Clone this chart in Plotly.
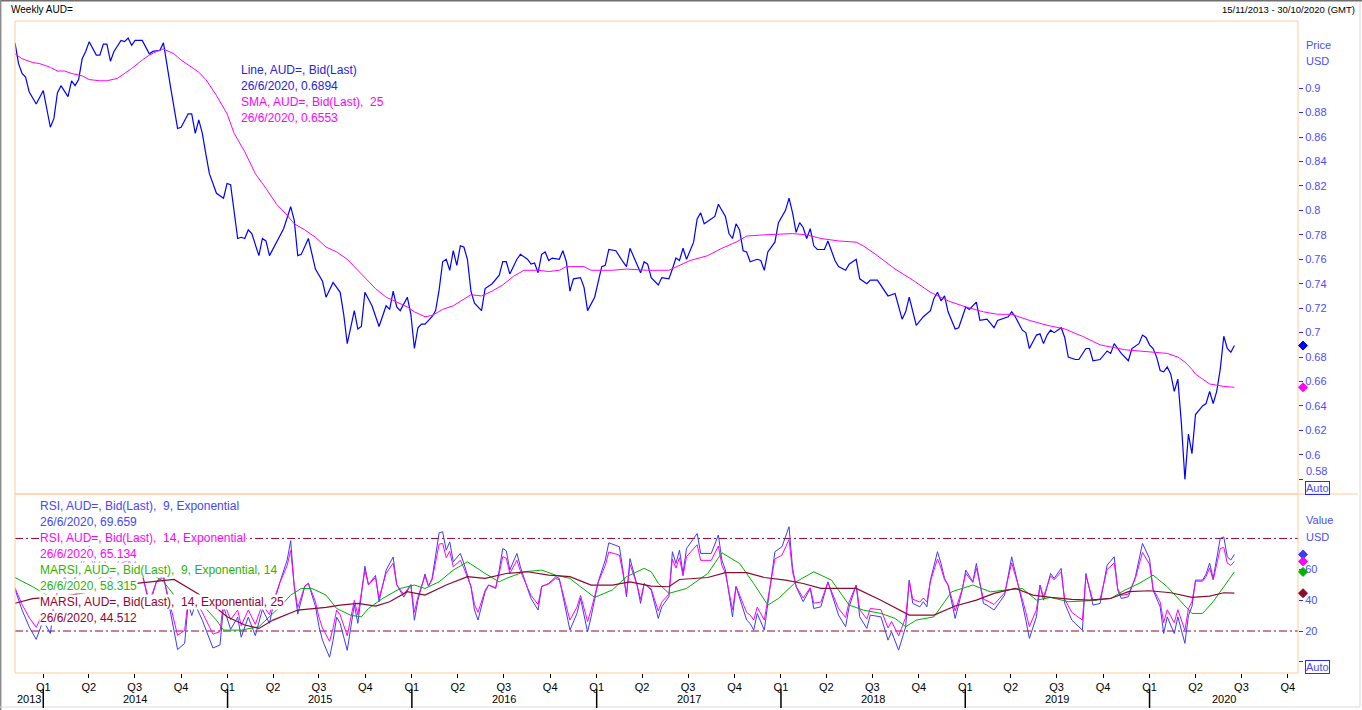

# Weekly AUD= chart: price + SMA(25) on top, RSI / MARSI panel below

import numpy as np
import pandas as pd
import plotly.graph_objects as go

#%% data (weekly, index = weeks after 15/11/2013)
start = pd.Timestamp("2013-11-15")
x_end = pd.Timestamp("2020-10-30")

price_wk = [0, 1, 2, 3, 4, 6, 8, 10, 11, 12, 13, 15, 16, 17, 18, 19, 20, 21, 23, 24, 25, 26, 27, 28, 30, 31, 32, 33, 34, 36,
            38, 39, 41, 42, 44, 45, 46, 47, 49, 50, 51, 52, 53, 54, 55, 57, 59, 60, 61, 63, 64, 65, 66, 67, 69, 70, 71, 72, 74, 76,
            78, 79, 80, 81, 83, 85, 87, 88, 90, 92, 93, 94, 96, 97, 98, 99, 101, 103, 105, 106, 107, 108, 109, 111, 112, 113, 114, 115, 116, 118,
            119, 120, 121, 122, 123, 124, 125, 126, 127, 128, 129, 130, 132, 133, 135, 137, 138, 139, 140, 142, 143, 145, 146, 147, 148, 149, 150, 151, 152, 154,
            155, 156, 157, 158, 160, 161, 162, 164, 166, 167, 168, 170, 172, 173, 174, 175, 177, 178, 179, 180, 182, 183, 185, 186, 187, 188, 189, 190, 191, 192,
            193, 194, 195, 197, 198, 199, 200, 201, 202, 203, 204, 205, 206, 207, 208, 210, 211, 212, 213, 215, 216, 218, 219, 220, 221, 222, 223, 224, 225, 226,
            227, 229, 230, 232, 233, 235, 236, 238, 239, 241, 242, 244, 247, 249, 251, 252, 253, 255, 257, 259, 260, 261, 262, 263, 264, 266, 267, 269, 270, 272,
            273, 275, 277, 278, 281, 282, 283, 285, 286, 287, 289, 290, 291, 292, 293, 294, 296, 297, 298, 300, 301, 303, 304, 305, 307, 309, 310, 311, 312, 313,
            315, 316, 318, 319, 320, 321, 322, 323, 324, 325, 326, 327, 328, 329, 330, 331, 332, 333, 334, 335, 336, 337, 338, 339, 340, 341, 342, 343, 344, 345]
price = [0.937, 0.920, 0.912, 0.909, 0.897, 0.887, 0.898, 0.868, 0.875, 0.896, 0.902, 0.893, 0.906, 0.902, 0.907, 0.924, 0.930, 0.938, 0.927, 0.927,
         0.936, 0.936, 0.922, 0.930, 0.939, 0.938, 0.941, 0.935, 0.939, 0.939, 0.928, 0.930, 0.931, 0.937, 0.901, 0.885, 0.867, 0.868, 0.879, 0.879,
         0.863, 0.874, 0.863, 0.846, 0.830, 0.814, 0.810, 0.822, 0.821, 0.777, 0.778, 0.777, 0.784, 0.781, 0.763, 0.777, 0.775, 0.763, 0.774, 0.785,
         0.803, 0.792, 0.763, 0.764, 0.777, 0.752, 0.742, 0.729, 0.741, 0.733, 0.715, 0.691, 0.718, 0.703, 0.705, 0.733, 0.722, 0.705, 0.722, 0.719,
         0.734, 0.721, 0.718, 0.729, 0.715, 0.687, 0.704, 0.707, 0.707, 0.713, 0.718, 0.735, 0.758, 0.760, 0.751, 0.767, 0.755, 0.771, 0.770, 0.760,
         0.734, 0.724, 0.718, 0.736, 0.740, 0.747, 0.758, 0.758, 0.748, 0.760, 0.764, 0.760, 0.756, 0.757, 0.749, 0.764, 0.766, 0.759, 0.761, 0.760,
         0.767, 0.758, 0.734, 0.744, 0.745, 0.737, 0.718, 0.729, 0.754, 0.755, 0.768, 0.767, 0.758, 0.754, 0.769, 0.762, 0.749, 0.758, 0.756, 0.745,
         0.739, 0.745, 0.744, 0.752, 0.761, 0.759, 0.769, 0.760, 0.767, 0.774, 0.793, 0.798, 0.789, 0.793, 0.795, 0.805, 0.800, 0.795, 0.781, 0.777,
         0.789, 0.784, 0.767, 0.766, 0.758, 0.760, 0.759, 0.751, 0.766, 0.774, 0.790, 0.800, 0.810, 0.798, 0.782, 0.790, 0.786, 0.777, 0.785, 0.771,
         0.768, 0.768, 0.775, 0.759, 0.754, 0.751, 0.756, 0.760, 0.744, 0.740, 0.743, 0.743, 0.730, 0.732, 0.711, 0.717, 0.729, 0.706, 0.713, 0.718,
         0.728, 0.733, 0.726, 0.730, 0.717, 0.703, 0.704, 0.721, 0.719, 0.725, 0.710, 0.711, 0.704, 0.710, 0.713, 0.717, 0.713, 0.702, 0.700, 0.687,
         0.698, 0.699, 0.691, 0.698, 0.702, 0.700, 0.704, 0.696, 0.680, 0.678, 0.678, 0.687, 0.687, 0.677, 0.678, 0.685, 0.683, 0.691, 0.687, 0.683,
         0.677, 0.687, 0.691, 0.698, 0.696, 0.690, 0.687, 0.680, 0.669, 0.668, 0.672, 0.666, 0.652, 0.662, 0.626, 0.580, 0.617, 0.601, 0.633, 0.637,
         0.640, 0.642, 0.652, 0.642, 0.652, 0.670, 0.697, 0.687, 0.684, 0.6894]

sma_wk = [0, 2, 5, 7, 10, 12, 14, 16, 19, 21, 24, 26, 29, 31, 33, 36, 38, 40, 42, 45, 47, 50, 52, 54, 57, 60, 62, 65, 68, 71,
          74, 77, 79, 82, 85, 88, 91, 94, 96, 99, 102, 105, 108, 111, 113, 116, 118, 121, 124, 127, 129, 132, 135, 138, 141, 144, 148, 151, 154, 156,
          161, 163, 169, 173, 179, 185, 188, 191, 196, 200, 204, 207, 212, 217, 220, 224, 228, 233, 238, 240, 244, 249, 254, 259, 264, 269, 274, 278, 282, 287,
          292, 297, 302, 307, 311, 314, 318, 323, 326, 329, 331, 333, 334, 336, 338, 340, 342, 345]
sma = [0.928, 0.924, 0.921, 0.920, 0.917, 0.914, 0.914, 0.912, 0.910, 0.907, 0.906, 0.906, 0.908, 0.912, 0.916, 0.923, 0.927, 0.930, 0.932, 0.928,
       0.923, 0.917, 0.913, 0.907, 0.894, 0.879, 0.863, 0.848, 0.830, 0.818, 0.805, 0.796, 0.789, 0.784, 0.778, 0.770, 0.766, 0.760, 0.754, 0.745,
       0.736, 0.729, 0.725, 0.721, 0.717, 0.713, 0.714, 0.719, 0.722, 0.727, 0.731, 0.730, 0.734, 0.739, 0.746, 0.751, 0.751, 0.750, 0.751, 0.754,
       0.754, 0.751, 0.751, 0.752, 0.751, 0.751, 0.755, 0.759, 0.763, 0.769, 0.774, 0.779, 0.780, 0.781, 0.781, 0.780, 0.777, 0.775, 0.774, 0.771,
       0.763, 0.752, 0.743, 0.733, 0.726, 0.721, 0.717, 0.715, 0.715, 0.710, 0.706, 0.703, 0.697, 0.690, 0.688, 0.686, 0.685, 0.684, 0.683, 0.680,
       0.676, 0.670, 0.666, 0.662, 0.658, 0.657, 0.656, 0.6553]

rsi_wk = [0, 2, 4, 6, 8, 10, 11, 12, 14, 16, 18, 20, 21, 23, 25, 27, 28, 30, 32, 33, 34, 36, 38, 40, 42, 43, 46, 48, 49, 50,
          51, 53, 56, 58, 59, 61, 63, 64, 66, 68, 70, 72, 73, 75, 77, 78, 79, 80, 82, 83, 85, 86, 87, 89, 90, 91, 92, 94, 95, 96,
          97, 99, 100, 102, 103, 105, 107, 108, 110, 112, 113, 114, 116, 117, 118, 119, 120, 121, 122, 123, 124, 126, 127, 129, 130, 131, 133, 134, 136, 137,
          138, 139, 140, 142, 143, 145, 146, 148, 149, 151, 153, 154, 155, 157, 159, 160, 162, 163, 165, 167, 168, 170, 171, 172, 173, 174, 176, 177, 178, 180,
          182, 183, 185, 186, 187, 188, 189, 190, 192, 193, 194, 197, 199, 200, 201, 203, 204, 207, 208, 209, 210, 212, 213, 215, 217, 219, 220, 221, 223, 225,
          226, 228, 230, 232, 233, 235, 236, 238, 239, 241, 242, 245, 247, 248, 250, 252, 253, 254, 256, 257, 258, 259, 261, 262, 263, 264, 266, 268, 269, 271,
          272, 274, 275, 277, 279, 280, 282, 284, 285, 286, 287, 289, 290, 291, 293, 294, 296, 297, 299, 300, 302, 303, 305, 307, 309, 311, 312, 313, 315, 317,
          319, 321, 322, 324, 325, 326, 328, 329, 331, 332, 333, 334, 336, 337, 338, 339, 341, 342, 343, 344, 345]
rsi9 = [47, 33.6, 22.8, 14.6, 27, 18.4, 35, 45, 55, 50, 60, 72, 75, 62, 68, 55, 60, 68, 70, 60,
        65, 58, 36, 52, 56, 44, 8, 12, 38, 30, 37, 27, 9, 11, 36, 21, 29, 16, 29, 17,
        34, 25, 36, 52, 66, 78.5, 49, 31, 49, 51, 36, 23, 14, 3, 14, 29, 25, 7.5, 23, 37,
        25, 62, 50, 56, 39, 59.5, 68, 50, 42, 50, 27, 40, 57, 49, 54, 68, 83.7, 84.3, 72.4, 77.8,
        64.9, 70.3, 63.8, 48.7, 33.6, 27.1, 45.4, 49.8, 47.6, 59.5, 73.5, 72, 59.5, 70.3, 61.6, 47.6, 41.1, 33.6, 48.7, 50.8,
        55.2, 54.1, 42.2, 20.6, 31.4, 41.1, 19.5, 29.2, 51.9, 66, 77.2, 75.7, 74.6, 59.5, 42.2, 67, 49.8, 37.9, 50.8, 46.5,
        28.2, 35.7, 42.2, 71.4, 63.8, 72.4, 57.3, 73.5, 80, 83.2, 70.3, 70.3, 82.2, 66, 59.5, 29.2, 48.7, 27.1, 24.9, 20.6,
        31.4, 20.6, 37.9, 71.4, 74.6, 87.6, 60.6, 48.7, 39, 47.6, 34.6, 35.7, 51.9, 37.9, 30.3, 22.8, 35.7, 49.8, 29.2, 21.7,
        30.3, 29.2, 14.1, 19.5, 7.6, 22.8, 53, 37.9, 35.7, 39, 35.7, 53, 71.4, 63.8, 54.1, 49.8, 28.2, 46.5, 59.5, 51.9,
        63.8, 37.9, 36.8, 33.6, 40, 43.3, 68.1, 48.7, 37.9, 27.1, 15.2, 29.2, 49.8, 40, 57.3, 54.1, 60.6, 37.9, 27.1, 24.9,
        20.6, 57.3, 36.8, 37.9, 62.7, 68.1, 46.5, 41.1, 42.2, 55.2, 76.8, 67, 46.5, 35.7, 18.4, 29.2, 18.4, 29.2, 12, 30,
        36, 53, 53, 57, 64, 54, 80, 81, 68, 66, 69.659]
rsi14 = [48, 37.2, 28.8, 22.4, 32, 25.4, 38.3, 46.1, 53.9, 50, 57.8, 67.2, 69.5, 59.4, 64, 53.9, 57.8, 64, 65.6, 57.8,
         61.7, 56.2, 39.1, 51.6, 54.7, 45.3, 17.2, 20.4, 40.6, 34.4, 39.9, 32.1, 18, 19.6, 39.1, 27.4, 33.6, 23.5, 33.6, 24.3,
         37.5, 30.5, 39.1, 51.6, 62.5, 72.2, 49.2, 35.2, 49.2, 50.8, 39.1, 28.9, 21.9, 13.3, 21.9, 33.6, 30.5, 16.9, 28.9, 39.9,
         30.5, 59.4, 50, 54.7, 41.4, 57.4, 64, 50, 43.8, 50, 32.1, 42.2, 55.5, 49.2, 53.1, 64, 76.3, 76.8, 67.5, 71.7,
         61.6, 65.8, 60.8, 49, 37.2, 32.1, 46.4, 49.8, 48.1, 57.4, 68.3, 67.2, 57.4, 65.8, 59, 48.1, 43.1, 37.2, 49, 50.6,
         54.1, 53.2, 43.9, 27.1, 35.5, 43.1, 26.2, 33.8, 51.5, 62.5, 71.2, 70, 69.2, 57.4, 43.9, 63.3, 49.8, 40.6, 50.6, 47.3,
         33, 38.8, 43.9, 66.7, 60.8, 67.5, 55.7, 68.3, 73.4, 75.9, 65.8, 65.8, 75.1, 62.5, 57.4, 33.8, 49, 32.1, 30.4, 27.1,
         35.5, 27.1, 40.6, 66.7, 69.2, 79.3, 58.3, 49, 41.4, 48.1, 38, 38.8, 51.5, 40.6, 34.6, 28.8, 38.8, 49.8, 33.8, 27.9,
         34.6, 33.8, 22, 26.2, 16.9, 28.8, 52.3, 40.6, 38.8, 41.4, 38.8, 52.3, 66.7, 60.8, 53.2, 49.8, 33, 47.3, 57.4, 51.5,
         60.8, 40.6, 39.7, 37.2, 42.2, 44.8, 64.1, 49, 40.6, 32.1, 22.9, 33.8, 49.8, 42.2, 55.7, 53.2, 58.3, 40.6, 32.1, 30.4,
         27.1, 55.7, 39.7, 40.6, 59.9, 64.1, 47.3, 43.1, 43.9, 54.1, 70.9, 63.3, 47.3, 38.8, 25.4, 33.8, 25.4, 33.8, 20.4, 34.4,
         39.1, 52.3, 52.3, 55.5, 60.9, 53.1, 73.4, 74.2, 64, 62.5, 65.134]

marsi9_wk = [0, 5, 10, 15, 20, 25, 30, 35, 38, 42, 45, 49, 54, 57, 59, 64, 69, 75, 78, 81, 84, 88, 91, 95, 98, 100, 104, 109, 113, 116,
             120, 124, 128, 133, 137, 139, 144, 149, 153, 157, 160, 164, 169, 173, 178, 180, 182, 185, 190, 196, 200, 205, 209, 213, 216, 221, 226, 231, 236, 240,
             245, 249, 252, 255, 260, 265, 271, 276, 280, 285, 289, 293, 298, 304, 310, 314, 318, 322, 326, 330, 333, 336, 339, 342, 345]
marsi9 = [54.7, 48.7, 42, 41, 48, 56, 60, 61, 58, 52, 43.3, 36.8, 34.6, 27, 20.6, 20.6, 22.8, 35.8, 43.3, 47.6,
          47.6, 43.3, 34.6, 30.2, 29.2, 34.6, 41.1, 47.6, 49.8, 47.6, 51.9, 59.5, 64.9, 57.3, 51.9, 54.1, 58.4, 59.5, 56.2, 54.1,
          48.7, 41.8, 46.6, 55.2, 60.6, 58.4, 51, 44.4, 47.6, 57.3, 70.7, 63.8, 50.8, 36.8, 41.1, 51.9, 58.4, 53, 36.8, 33.6,
          31.4, 28.2, 22.8, 27.1, 29.2, 45.4, 49.8, 45.4, 46.5, 47.6, 40, 41.8, 39, 39.6, 41.1, 46.5, 50.8, 56.2, 48.7, 39,
          31.4, 31.4, 39, 48.7, 58.315]

marsi14_wk = [0, 5, 15, 25, 35, 45, 52, 56, 60, 65, 69, 73, 80, 88, 92, 97, 102, 106, 111, 116, 122, 128, 133, 139, 145, 151, 157, 163, 169, 174,
              180, 185, 188, 196, 201, 207, 212, 218, 223, 228, 238, 245, 250, 253, 260, 266, 272, 277, 283, 288, 293, 299, 304, 310, 315, 321, 327, 333, 338, 342,
              345]
marsi14 = [38, 41, 43, 47, 51, 53.4, 43.9, 36.8, 29.2, 23.9, 21.7, 27.1, 33.6, 35.3, 36.8, 37.9, 36.2, 39, 45.5, 43.3,
           49.8, 55.2, 54.1, 57.3, 58.4, 56.2, 55.2, 49.8, 49.8, 51.9, 49.1, 48.7, 53.4, 54.7, 57.8, 57.8, 54.7, 53, 50.8, 47.6,
           47.6, 40, 34, 30.3, 30.3, 36.2, 40, 44.4, 47.6, 43.3, 41.8, 40.5, 40, 41.1, 45.5, 46.1, 44.8, 41.8, 42.6, 44.8,
           44.512]

price_ticks = [0.58, 0.6, 0.62, 0.64, 0.66, 0.68, 0.7, 0.72, 0.74, 0.76, 0.78, 0.8, 0.82, 0.84, 0.86, 0.88, 0.9]
rsi_ticks = [0, 20, 40, 60]
rsi_bands = [80, 20]

top_legend = [("Line, AUD=, Bid(Last)", "#2323E8"), ("26/6/2020, 0.6894", "#2323E8"),
              ("SMA, AUD=, Bid(Last),  25", "#FF00FF"), ("26/6/2020, 0.6553", "#FF00FF")]
low_legend = [("RSI, AUD=, Bid(Last),  9, Exponential", "#4646FF"), ("26/6/2020, 69.659", "#4646FF"),
              ("RSI, AUD=, Bid(Last),  14, Exponential", "#FF00FF"), ("26/6/2020, 65.134", "#FF00FF"),
              ("MARSI, AUD=, Bid(Last),  9, Exponential, 14", "#2DB400"), ("26/6/2020, 58.315", "#2DB400"),
              ("MARSI, AUD=, Bid(Last),  14, Exponential, 25", "#990033"), ("26/6/2020, 44.512", "#990033")]

#%% helpers
W, H = 1362, 710
ML, MR, MT, MB = 15, 64, 21, 37
PW, PH = W - ML - MR, H - MT - MB
split = 179 / PH   # lower panel height share


def wk_dates(wk):
    return start + pd.to_timedelta(np.array(wk) * 7, unit="D")


def px(x):
    return (x - ML) / PW


def py(y):
    return (H - MB - y) / PH


axis_font = dict(family="Liberation Sans, Arial", size=11)
text_font = "Liberation Sans, Arial"
BLUE_AX = "#4B4BFF"
ORANGE = "#FFCC99"

fig = go.Figure()

# top panel
fig.add_trace(go.Scatter(x=wk_dates(price_wk), y=price, mode="lines", line=dict(color="#0000FF", width=1.2),
                         xaxis="x", yaxis="y"))
fig.add_trace(go.Scatter(x=wk_dates(sma_wk), y=sma, mode="lines", line=dict(color="#FF00FF", width=1),
                         xaxis="x", yaxis="y"))
# lower panel
for wk, vals, col, lw in [(rsi_wk, rsi9, "#3C3CFF", 1), (rsi_wk, rsi14, "#FF00FF", 1),
                          (marsi9_wk, marsi9, "#00B000", 1), (marsi14_wk, marsi14, "#8B0A2E", 1.2)]:
    fig.add_trace(go.Scatter(x=wk_dates(wk), y=vals, mode="lines", line=dict(color=col, width=lw),
                             xaxis="x2", yaxis="y2"))

# quarter ticks (the chart puts them on the 2nd week of each quarter)
q_starts = pd.date_range("2014-01-01", "2020-10-01", freq="QS")
q_ticks = q_starts + pd.Timedelta(days=9)
q_text = ["Q%d" % q.quarter for q in q_starts]
year_marks = [pd.Timestamp("%d-01-01" % y) + pd.Timedelta(days=9) for y in range(2014, 2021)]

shapes = []
annotations = []

# frames
shapes.append(dict(type="rect", xref="paper", yref="paper", x0=0, x1=1, y0=split, y1=1,
                   line=dict(color=ORANGE, width=1)))
shapes.append(dict(type="rect", xref="paper", yref="paper", x0=0, x1=1, y0=0, y1=split,
                   line=dict(color=ORANGE, width=1)))
shapes.append(dict(type="line", xref="paper", yref="paper", x0=1, x1=px(1358), y0=split, y1=split,
                   line=dict(color=ORANGE, width=1)))
# window border
shapes.append(dict(type="line", xref="paper", yref="paper", x0=px(0), x1=px(W), y0=py(0.7), y1=py(0.7),
                   line=dict(color="#6E6E6E", width=1.5)))
shapes.append(dict(type="line", xref="paper", yref="paper", x0=px(0.7), x1=px(0.7), y0=py(0), y1=py(H),
                   line=dict(color="#8C8C8C", width=1.5)))
shapes.append(dict(type="line", xref="paper", yref="paper", x0=px(1360), x1=px(1360), y0=py(2), y1=py(707),
                   line=dict(color="#DADADA", width=1)))
shapes.append(dict(type="line", xref="paper", yref="paper", x0=px(0), x1=px(1360), y0=py(707), y1=py(707),
                   line=dict(color="#DADADA", width=1)))

# RSI bands
for b in rsi_bands:
    shapes.append(dict(type="line", xref="paper", yref="y2", x0=0, x1=1, y0=b, y1=b, layer="below",
                       line=dict(color="#990033", width=1, dash="8px,3px,2px,3px")))

# last-value diamonds just right of the plot edge (pixel-sized, anchored on the value)
diamond = "M 0 4.5 L 4.5 0 L 0 -4.5 L -4.5 0 Z"
for yref, val, col in [("y", price[-1], "#0000FF"), ("y", sma[-1], "#FF00FF"),
                       ("y2", rsi9[-1], "#3C3CFF"), ("y2", rsi14[-1], "#FF00FF"),
                       ("y2", marsi9[-1], "#00B000"), ("y2", marsi14[-1], "#8B0A2E")]:
    shapes.append(dict(type="path", xref="paper", yref=yref, xsizemode="pixel", ysizemode="pixel",
                       xanchor=px(1303), yanchor=val, path=diamond, fillcolor=col,
                       line=dict(color=col, width=1)))

# year separators + year labels
for ym in year_marks:
    shapes.append(dict(type="line", xref="x2", yref="paper", x0=ym, x1=ym, y0=py(689), y1=py(708),
                       line=dict(color="black", width=1.5)))
edges = [start] + year_marks + [x_end]
for i, yr in enumerate(range(2013, 2021)):
    mid = edges[i] + (edges[i + 1] - edges[i]) / 2
    annotations.append(dict(x=mid, y=py(699), xref="x2", yref="paper", text=str(yr), showarrow=False,
                            xanchor="center", yanchor="middle", font=dict(axis_font, color="black")))

# header texts
annotations.append(dict(x=px(9), y=py(10), xref="paper", yref="paper", text="Weekly AUD=", showarrow=False,
                        xanchor="left", yanchor="middle", font=dict(family=text_font, size=10, color="black")))
annotations.append(dict(x=px(1357), y=py(10), xref="paper", yref="paper", text="15/11/2013 - 30/10/2020 (GMT)",
                        showarrow=False, xanchor="right", yanchor="middle",
                        font=dict(family=text_font, size=9.5, color="black")))

# axis titles, lowest price label (raised above the Auto box) and Auto boxes
for txt, yy in [("Price", 45), ("USD", 61), ("Value", 520), ("USD", 537), ("0.58", 471)]:
    annotations.append(dict(x=px(1304), y=py(yy), xref="paper", yref="paper", text=txt, showarrow=False,
                            xanchor="left", yanchor="middle", font=dict(axis_font, color=BLUE_AX)))
for yy in [488, 667]:
    annotations.append(dict(x=px(1305), y=py(yy), xref="paper", yref="paper", text="Auto", showarrow=False,
                            xanchor="left", yanchor="middle", bordercolor="#2A2AFF", borderwidth=1, borderpad=0,
                            font=dict(axis_font, color=BLUE_AX)))

# legends
for i, (txt, col) in enumerate(top_legend):
    annotations.append(dict(x=px(239), y=py(70 + 16 * i), xref="paper", yref="paper", text=txt, showarrow=False,
                            xanchor="left", yanchor="middle", font=dict(family=text_font, size=12, color=col)))
for i, (txt, col) in enumerate(low_legend):
    annotations.append(dict(x=px(39), y=py(506 + 16 * i), xref="paper", yref="paper", text=txt, showarrow=False,
                            xanchor="left", yanchor="middle", bgcolor="white", borderpad=0,
                            font=dict(family=text_font, size=12, color=col)))

fig.update_layout(
    width=W, height=H,
    margin=dict(l=ML, r=MR, t=MT, b=MB),
    paper_bgcolor="white", plot_bgcolor="white",
    showlegend=False,
    hovermode=False,
    xaxis=dict(domain=[0, 1], anchor="y", range=[start, x_end], showticklabels=False, ticks="",
               showgrid=False, zeroline=False, showline=False),
    yaxis=dict(domain=[split, 1], anchor="x", side="right", range=[0.568, 0.9549],
               tickvals=price_ticks, ticktext=["" if v == 0.58 else "%g" % v for v in price_ticks],
               ticks="outside", ticklen=4, tickcolor="#2A2AFF", tickfont=dict(axis_font, color=BLUE_AX),
               showgrid=False, zeroline=False, showline=False),
    xaxis2=dict(domain=[0, 1], anchor="y2", matches="x", range=[start, x_end],
                tickvals=q_ticks, ticktext=q_text, ticks="outside", ticklen=4, tickcolor="black",
                tickfont=dict(axis_font, color="black"), showgrid=False, zeroline=False, showline=False),
    yaxis2=dict(domain=[0, split], anchor="x2", side="right", range=[-7.2, 108.8],
                tickvals=rsi_ticks, ticktext=["" if v == 0 else str(v) for v in rsi_ticks],
                ticks="outside", ticklen=4, tickcolor="#2A2AFF", tickfont=dict(axis_font, color=BLUE_AX),
                showgrid=False, zeroline=False, showline=False),
    shapes=shapes,
    annotations=annotations,
)

# page margin off so the 1362x710 figure fills the window exactly; no modebar
fig.write_html("out.html", config={"displayModeBar": False},
               post_script="document.body.style.margin='0px';document.body.style.overflow='hidden';")
